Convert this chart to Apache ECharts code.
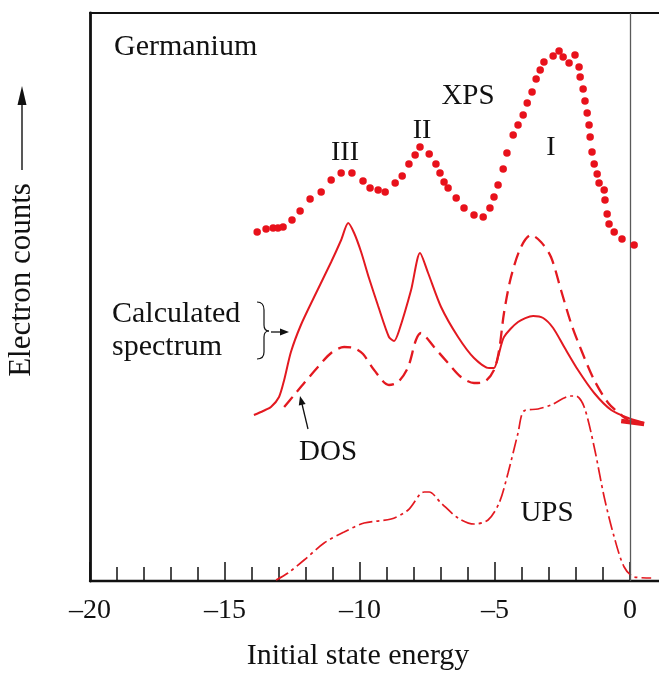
<!DOCTYPE html>
<html>
<head>
<meta charset="utf-8">
<title>Germanium valence band spectra</title>
<script src="https://cdn.jsdelivr.net/npm/echarts@6/dist/echarts.min.js"></script>
<style>
  html, body { margin: 0; padding: 0; background: #ffffff; }
  #chart { width: 659px; height: 673px; }
</style>
</head>
<body>
<div id="chart"></div>
<script>
// Energy axis (eV) and tick positions
const energyMin = -20;
const energyMax = 1.07;
const majorTicks = [-20, -15, -10, -5, 0];
const minorTicks = [-19, -18, -17, -16, -14, -13, -12, -11, -9, -8, -7, -6, -4, -3, -2, -1];
const countsMax = 142;

// XPS measurement (dotted curve)
const xpsEnergy = [-13.81, -13.48, -13.22, -13.04, -12.85, -12.52, -12.22, -11.85, -11.44, -11.07,
  -10.70, -10.30, -9.89, -9.63, -9.33, -9.07, -8.70, -8.44, -8.19, -7.96,
  -7.78, -7.44, -7.19, -7.04, -6.89, -6.74, -6.44, -6.15, -5.78, -5.44,
  -5.19, -5.04, -4.89, -4.70, -4.56, -4.33, -4.15, -3.96, -3.81, -3.63,
  -3.48, -3.33, -3.19, -2.85, -2.63, -2.48, -2.26, -2.04, -1.89, -1.85,
  -1.74, -1.67, -1.59, -1.52, -1.48, -1.41, -1.33, -1.22, -1.15, -0.96,
  -0.93, -0.85, -0.78, -0.59, -0.30, 0.15];
const xpsCounts = [87.25, 88, 88.25, 88.25, 88.5, 90.25, 92.5, 95.5, 97.25, 100.25,
  102, 102, 100, 98.25, 97.75, 97.25, 99.5, 101.25, 104.25, 106.5,
  108.5, 106.75, 104.25, 102, 99.75, 98.25, 95.75, 93.25, 91.5, 91,
  93.25, 96, 99, 103, 107, 111.5, 114, 116.5, 119.5, 122.25,
  125.5, 127.75, 129.75, 131.25, 132.5, 131, 129.5, 131.5, 128.5, 126,
  123, 120, 117, 114, 111, 107.25, 104.25, 101.75, 99.5, 97.75,
  95.25, 91.75, 89.25, 87.25, 85.5, 84];

// Calculated spectrum (solid curve)
const calcEnergy = [-13.93, -13.59, -13.30, -13.00, -12.81, -12.56, -12.19, -11.70, -11.07, -10.70,
  -10.44, -10.22, -9.96, -9.67, -9.33, -8.93, -8.74, -8.56, -8.11, -7.78,
  -7.48, -7.00, -6.37, -5.78, -5.22, -5.04, -4.89, -4.67, -4.15, -3.59,
  -3.22, -2.85, -2.44, -1.93, -1.33, -0.70, -0.07, 0.52];
const calcCounts = [41.5, 42.5, 43.5, 46, 50.25, 57.25, 64, 71, 79.75, 85.25,
  89.5, 87, 82.25, 75.75, 68.75, 61, 60, 62.5, 72.75, 82,
  77, 68.5, 61, 55.75, 53.25, 53.25, 56, 61, 64.75, 66.25,
  65.75, 63.25, 58.5, 52.75, 47, 42.75, 40.75, 39.5];
// heavier stroke where the calculated curves meet past the Fermi level
const tailEnergy = [-0.33, 0.52];
const tailCounts = [40, 39.25];

// Density of states (dashed curve)
const dosEnergy = [-12.81, -12.44, -12.07, -11.56, -11.07, -10.59, -10.22, -9.89, -9.48, -8.93,
  -8.59, -8.22, -7.93, -7.74, -7.56, -7.26, -6.74, -6.26, -5.78, -5.41,
  -5.04, -4.85, -4.67, -4.41, -4.04, -3.67, -3.30, -2.93, -2.56, -2.19,
  -1.81, -1.33, -0.81, -0.33, -0.07];
const dosCounts = [43.5, 46.5, 49.5, 53.5, 57, 58.5, 58.25, 56.75, 52.75, 49,
  49.75, 53.5, 60.25, 62, 61, 58.5, 54.5, 51, 49.5, 49.75,
  52.75, 57.75, 67, 76, 83.5, 86.5, 84.75, 81, 72.75, 64.5,
  57.75, 50.25, 44.5, 41.5, 40.25];

// UPS measurement (dash-dot curve)
const upsEnergy = [-13.11, -12.67, -12.07, -11.33, -10.59, -9.85, -8.85, -8.22, -7.63, -7.44,
  -7.00, -6.37, -5.78, -5.26, -4.85, -4.52, -4.15, -3.93, -3.41, -2.93,
  -2.19, -2.00, -1.70, -1.33, -0.96, -0.59, -0.22, 0.15, 0.78];
const upsCounts = [0.25, 2, 5.25, 9.5, 12.25, 14.5, 15.5, 17.75, 22.25, 22.25,
  19.5, 15.75, 14.25, 15.25, 19.5, 27, 37, 42.5, 43, 44,
  46.25, 46.25, 43.5, 33.5, 21, 11, 3.5, 1, 0.75];

const zip = (xs, ys) => xs.map((x, i) => [x, ys[i]]);

const RED_DOT = '#e8111b';
const RED_LINE = '#e31920';
const INK = '#111111';
const SERIF = '"Liberation Serif", "DejaVu Serif", serif';

function txt(text, x, y, size, align) {
  return {
    type: 'text', x: x, y: y, silent: true,
    style: {
      text: text, font: size + 'px ' + SERIF, fill: INK,
      align: align || 'center', verticalAlign: 'middle',
      textAlign: align || 'center', textVerticalAlign: 'middle'
    }
  };
}
function seg(x1, y1, x2, y2, w) {
  return { type: 'line', silent: true, shape: { x1, y1, x2, y2 },
    style: { stroke: INK, lineWidth: w || 1.3 } };
}
function curve(x1, y1, cpx1, cpy1, cpx2, cpy2, x2, y2) {
  return { type: 'bezierCurve', silent: true,
    shape: { x1, y1, cpx1, cpy1, cpx2, cpy2, x2, y2 },
    style: { stroke: INK, lineWidth: 1.2, fill: null } };
}
function head(points) {
  return { type: 'polygon', silent: true, shape: { points: points }, style: { fill: INK } };
}

const chart = echarts.init(document.getElementById('chart'), null, { renderer: 'canvas' });

const energyFmt = v => (v < 0 ? '\u2013' + Math.abs(v) : String(v));

chart.setOption({
  backgroundColor: '#ffffff',
  animation: false,
  grid: { left: 90, top: 13, right: 0, bottom: 92 },
  xAxis: [
    {
      type: 'value', min: energyMin, max: energyMax, interval: 5,
      position: 'bottom',
      axisLine: { show: true, onZero: false, lineStyle: { color: INK, width: 2.4 } },
      axisTick: { show: true, inside: true, length: 19, customValues: majorTicks,
        lineStyle: { color: INK, width: 1.5 } },
      axisLabel: { show: true, customValues: majorTicks, formatter: energyFmt,
        margin: 16, color: INK, fontSize: 28, fontFamily: SERIF },
      splitLine: { show: false }
    },
    {
      // unit ticks between the labelled ones
      type: 'value', min: energyMin, max: energyMax, interval: 5,
      position: 'bottom',
      axisLine: { show: false, onZero: false },
      axisTick: { show: true, inside: true, length: 14, customValues: minorTicks,
        lineStyle: { color: INK, width: 1.5 } },
      axisLabel: { show: false },
      splitLine: { show: false }
    },
    {
      // upper frame edge
      type: 'value', min: energyMin, max: energyMax, interval: 5,
      position: 'top',
      axisLine: { show: true, onZero: false, lineStyle: { color: INK, width: 2.2 } },
      axisTick: { show: false }, axisLabel: { show: false }, splitLine: { show: false }
    }
  ],
  yAxis: {
    type: 'value', min: 0, max: countsMax,
    axisLine: { show: true, onZero: false, lineStyle: { color: INK, width: 2.8 } },
    axisTick: { show: false }, axisLabel: { show: false }, splitLine: { show: false }
  },
  series: [
    {
      name: 'UPS', type: 'line', data: zip(upsEnergy, upsCounts),
      showSymbol: false, smooth: 0.3,
      lineStyle: { color: RED_LINE, width: 1.7, type: [14, 4, 3, 4] },
      z: 2
    },
    {
      name: 'DOS', type: 'line', data: zip(dosEnergy, dosCounts),
      showSymbol: false, smooth: 0.3,
      lineStyle: { color: RED_LINE, width: 2.3, type: [13, 7] },
      z: 3
    },
    {
      name: 'Calculated spectrum', type: 'line', data: zip(calcEnergy, calcCounts),
      showSymbol: false, smooth: 0.25,
      lineStyle: { color: RED_LINE, width: 2 },
      z: 4,
      markLine: {
        silent: true, symbol: ['none', 'none'], label: { show: false },
        lineStyle: { color: '#5a5a5a', width: 1.3, type: 'solid' },
        data: [{ xAxis: 0 }]
      }
    },
    {
      name: 'Calculated tail', type: 'line', data: zip(tailEnergy, tailCounts),
      showSymbol: false,
      lineStyle: { color: RED_LINE, width: 4.5 },
      z: 4
    },
    {
      name: 'XPS', type: 'scatter', data: zip(xpsEnergy, xpsCounts),
      symbol: 'circle', symbolSize: 7.5,
      itemStyle: { color: RED_DOT, opacity: 1 },
      z: 5
    }
  ],
  graphic: [
    // vertical axis title with upward arrow
    Object.assign(txt('Electron counts', 22, 280, 31), { rotation: Math.PI / 2 }),
    seg(22, 170, 22, 100, 1.4),
    head([[22, 86], [17.5, 105], [26.5, 105]]),
    // horizontal axis title
    txt('Initial state energy', 358, 656, 30),
    // panel annotations
    txt('Germanium', 114, 47, 30, 'left'),
    txt('XPS', 468, 96, 29),
    txt('III', 345, 153, 28),
    txt('II', 422, 131, 28),
    txt('I', 551, 148, 28),
    txt('Calculated', 112, 314, 30, 'left'),
    txt('spectrum', 112, 347, 30, 'left'),
    txt('DOS', 328, 452, 29),
    txt('UPS', 547, 513, 29),
    // brace and pointer for the calculated spectrum
    curve(257, 302, 262, 302, 264, 305, 264, 310),
    seg(264, 310, 264, 325, 1.2),
    curve(264, 325, 264, 329, 266, 331, 269, 331),
    curve(269, 331, 266, 331, 264, 333, 264, 337),
    seg(264, 337, 264, 352, 1.2),
    curve(264, 352, 264, 357, 262, 359, 257, 359),
    seg(271, 332, 282, 332, 1.3),
    head([[289, 332], [280, 328.5], [280, 335.5]]),
    // pointer for the DOS curve
    seg(308, 429, 302, 404, 1.3),
    head([[300, 396], [305.6, 404], [298.8, 405.6]])
  ]
});
</script>
</body>
</html>
